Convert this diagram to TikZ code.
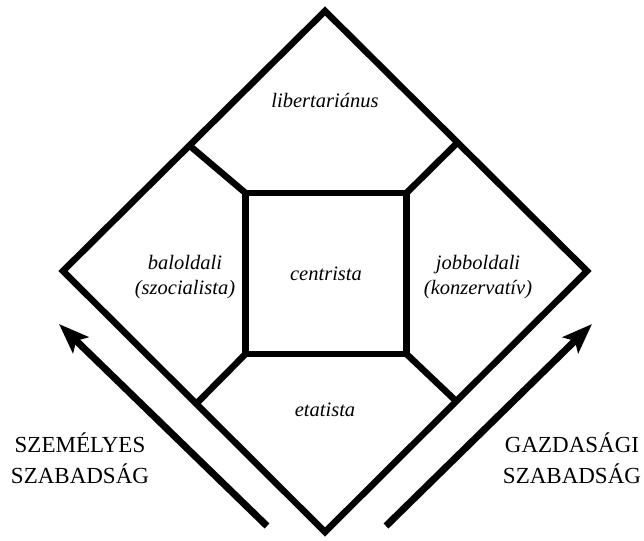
\documentclass[tikz,border=0pt]{standalone}
\usepackage{fontspec}
\setmainfont{Liberation Serif}
\usetikzlibrary{arrows.meta}

\begin{document}
\begin{tikzpicture}[
x=1pt,y=-1pt,
frame/.style={line width=6.5pt,line join=miter},
box/.style={draw,line width=6.5pt,minimum size=161pt,inner sep=0pt,outer sep=0pt},
lab/.style={font=\itshape\fontsize{20.5}{25}\selectfont,align=center},
caps/.style={font=\fontsize{23}{31}\selectfont,align=center},
arr/.style={line width=7pt,-{Stealth[length=30pt,width=22pt,inset=6pt]}}
]
\useasboundingbox (0,0) rectangle (644,540);

% outer diamond
\coordinate (top) at (325,11);
\coordinate (right) at (587,271);
\coordinate (bottom) at (325,532);
\coordinate (left) at (63,271);
\draw[frame] (top) -- (right) -- (bottom) -- (left) -- cycle;

% where the spokes meet the diamond
\coordinate (tl) at (190,146);
\coordinate (tr) at (457,143);
\coordinate (bl) at (196,404);
\coordinate (br) at (456,401);

\node[box,lab] (centre) at (326,273.5) {centrista};

\draw[frame] (centre.north west) -- (tl);
\draw[frame] (centre.north east) -- (tr);
\draw[frame] (centre.south west) -- (bl);
\draw[frame] (centre.south east) -- (br);

\node[lab] (libertarian) at (325,100) {libertariánus};
\node[lab] (baloldali) at (185,277) {baloldali\\(szocialista)};
\node[lab] (jobboldali) at (478,277) {jobboldali\\(konzervatív)};
\node[lab] (etatista) at (325,410) {etatista};

% arrows
\coordinate (la) at (267,526);
\coordinate (lb) at (59,324);
\coordinate (ra) at (386,526);
\coordinate (rb) at (592,324);
\draw[arr] (la) -- (lb);
\draw[arr] (ra) -- (rb);

\node[caps] (szemelyes) at (80,458) {SZEMÉLYES\\SZABADSÁG};
\node[caps] (gazdasagi) at (572,458) {GAZDASÁGI\\SZABADSÁG};

\end{tikzpicture}
\end{document}
